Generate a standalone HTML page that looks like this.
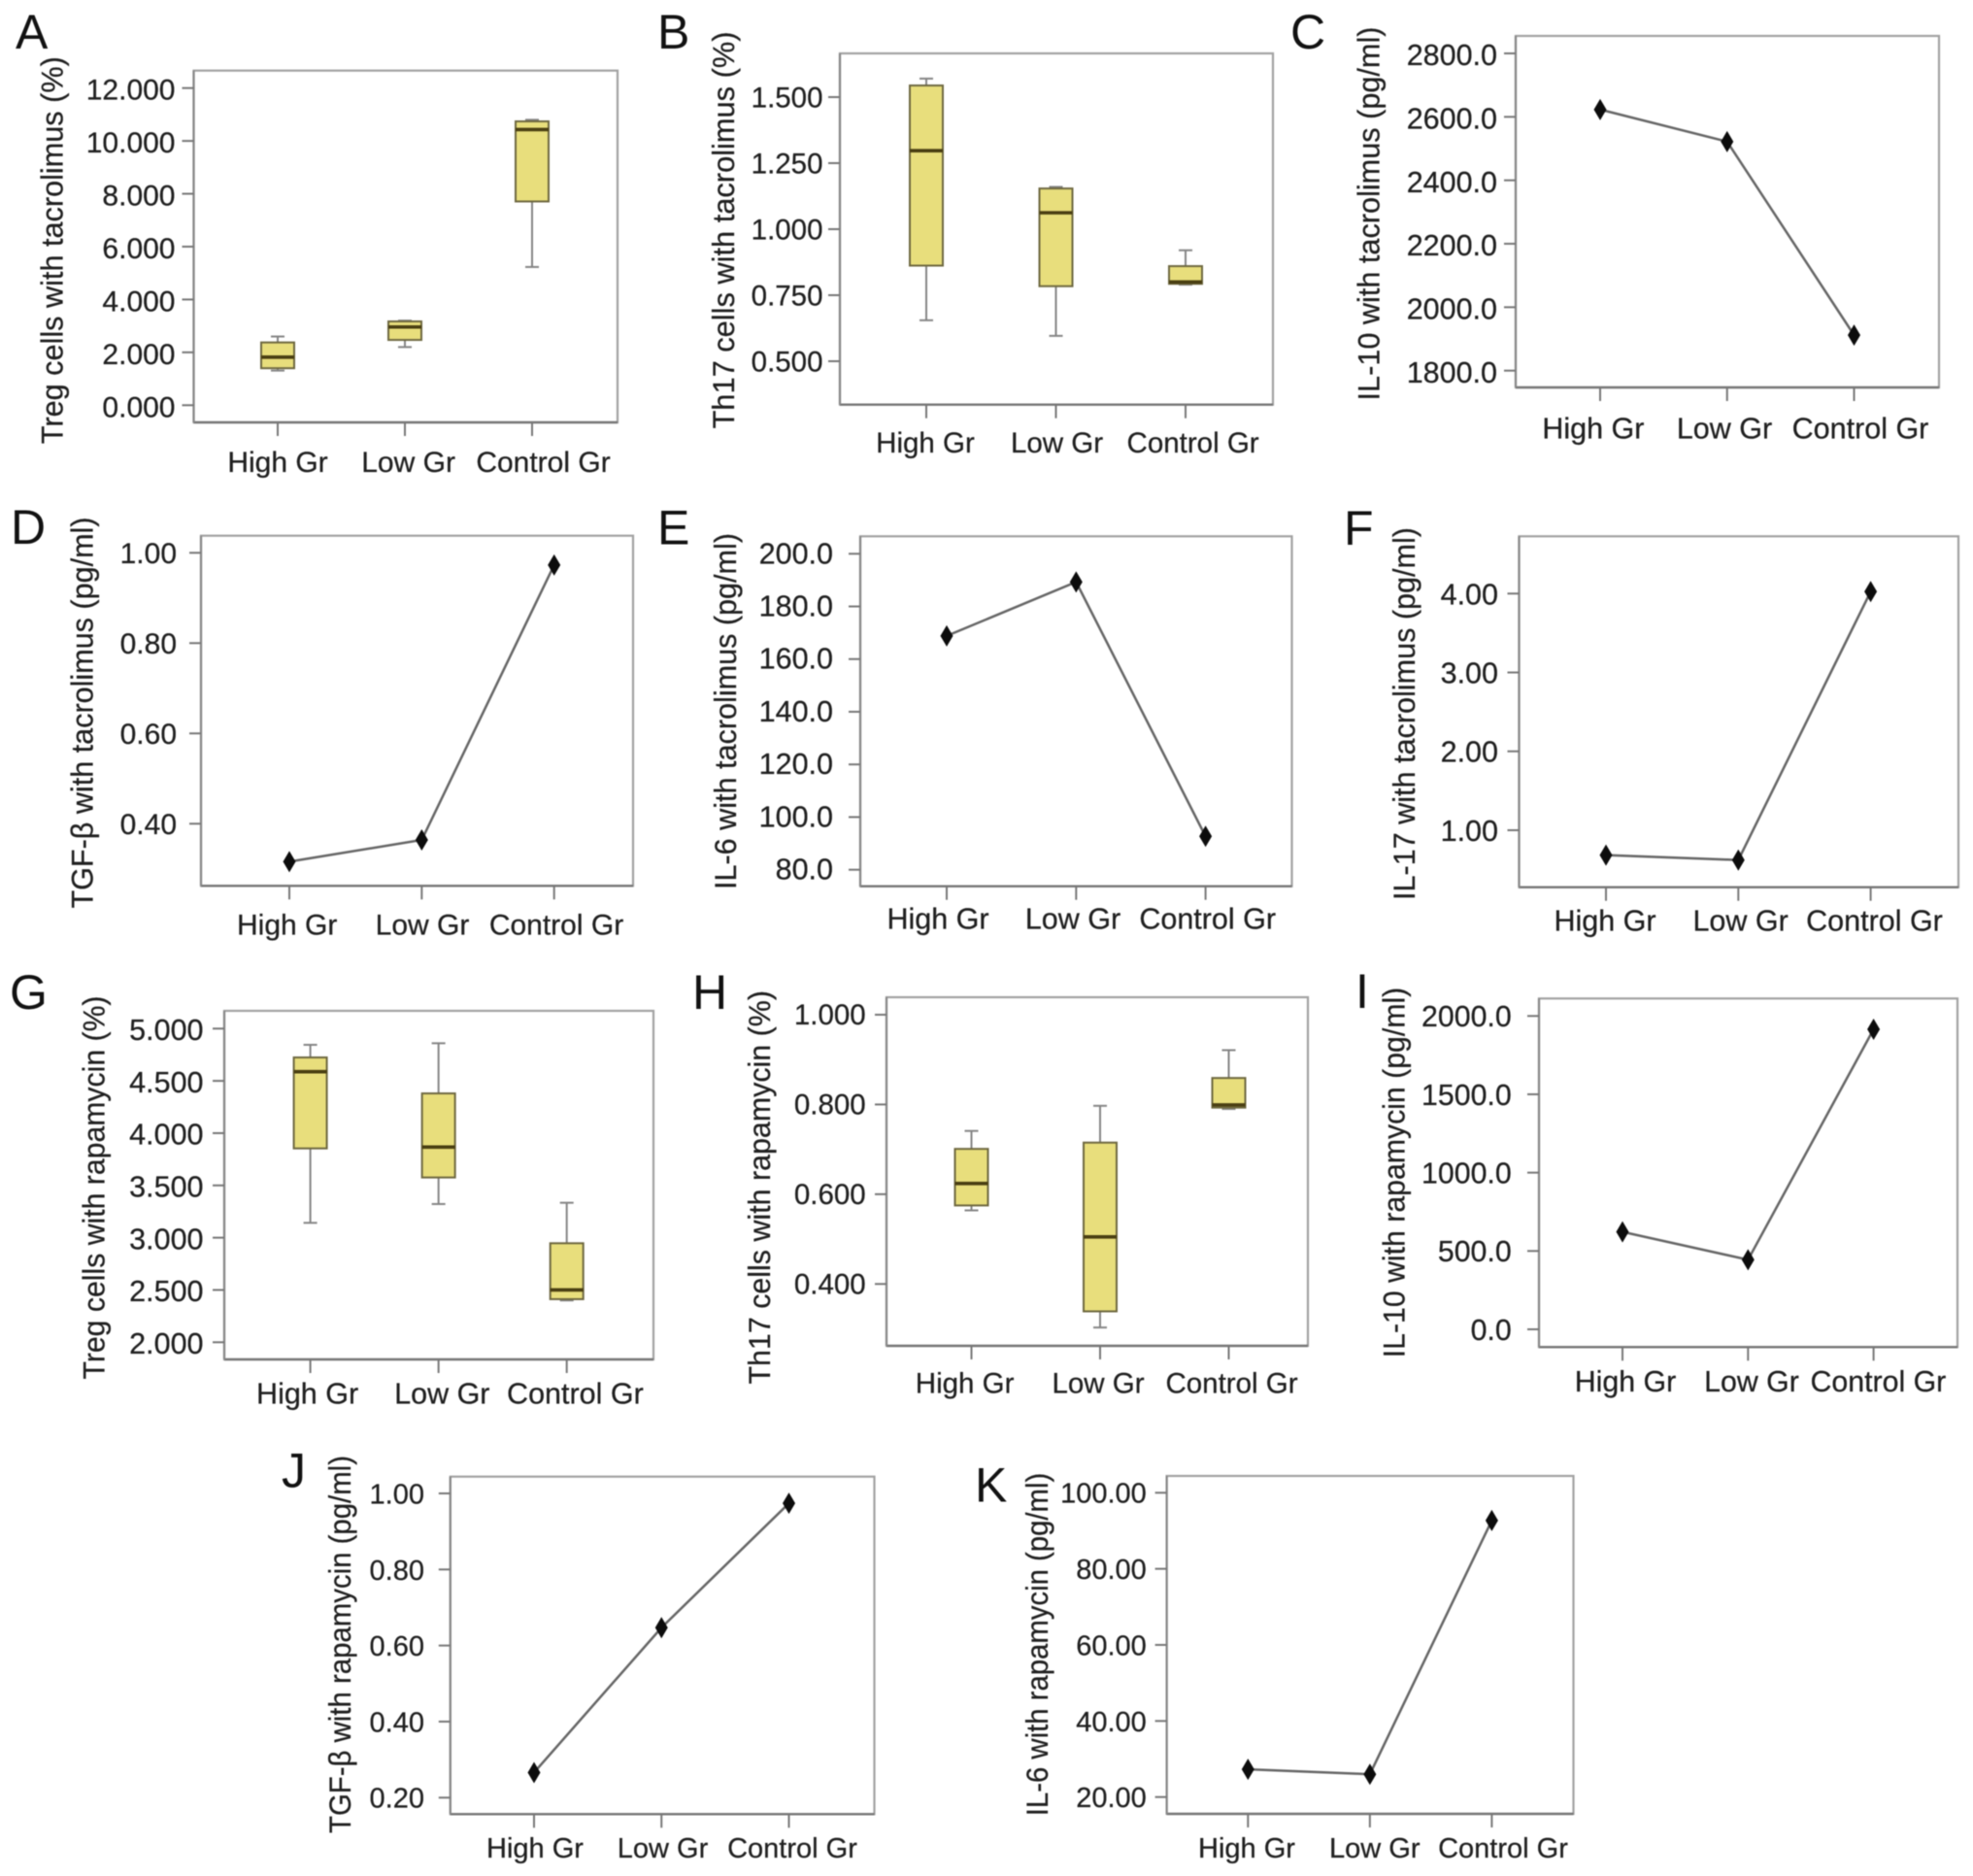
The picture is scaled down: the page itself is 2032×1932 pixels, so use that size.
<!DOCTYPE html>
<html lang="en">
<head>
<meta charset="utf-8">
<title>Treg, Th17 and cytokine levels by group</title>
<style>
html,body{margin:0;padding:0;background:#fff;}
#figure{display:block;width:2032px;height:1932px;filter:blur(0.6px);}
text{font-family:"Liberation Sans",Arial,sans-serif;fill:#1f1f1f;stroke:#1f1f1f;stroke-width:0.25px;}
</style>
</head>
<body>
<svg id="figure" xmlns="http://www.w3.org/2000/svg" width="2032" height="1932" viewBox="0 0 2032 1932"></svg>
<script>
/* ---------- shared categories ---------- */
const categories = ['High Gr', 'Low Gr', 'Control Gr'];

/* ---------- panel A ---------- */
const aTicks = ['12.000', '10.000', '8.000', '6.000', '4.000', '2.000', '0.000'];
const aWhiskerHigh = [2.6, 3.2, 10.8];
const aQ3 = [2.375, 3.17, 10.74];
const aMedian = [1.82, 2.96, 10.43];
const aQ1 = [1.4, 2.47, 7.71];
const aWhiskerLow = [1.31, 2.2, 5.23];

/* ---------- panel B ---------- */
const bTicks = ['1.500', '1.250', '1.000', '0.750', '0.500'];
const bWhiskerHigh = [1.57, 1.16, 0.92];
const bQ3 = [1.544, 1.154, 0.86];
const bMedian = [1.297, 1.062, 0.8];
const bQ1 = [0.862, 0.784, 0.793];
const bWhiskerLow = [0.655, 0.596, 0.79];

/* ---------- panel C ---------- */
const cTicks = ['2800.0', '2600.0', '2400.0', '2200.0', '2000.0', '1800.0'];
const cMeans = [2623, 2522, 1912];

/* ---------- panel D ---------- */
const dTicks = ['1.00', '0.80', '0.60', '0.40'];
const dMeans = [0.316, 0.364, 0.973];

/* ---------- panel E ---------- */
const eTicks = ['200.0', '180.0', '160.0', '140.0', '120.0', '100.0', '80.0'];
const eMeans = [168.8, 189.3, 92.7];

/* ---------- panel F ---------- */
const fTicks = ['4.00', '3.00', '2.00', '1.00'];
const fMeans = [0.684, 0.622, 4.025];

/* ---------- panel G ---------- */
const gTicks = ['5.000', '4.500', '4.000', '3.500', '3.000', '2.500', '2.000'];
const gWhiskerHigh = [4.845, 4.86, 3.334];
const gQ3 = [4.724, 4.38, 2.947];
const gMedian = [4.588, 3.867, 2.5];
const gQ1 = [3.854, 3.576, 2.412];
const gWhiskerLow = [3.142, 3.322, 2.4];

/* ---------- panel H ---------- */
const hTicks = ['1.000', '0.800', '0.600', '0.400'];
const hWhiskerHigh = [0.741, 0.797, 0.921];
const hQ3 = [0.701, 0.715, 0.859];
const hMedian = [0.624, 0.505, 0.799];
const hQ1 = [0.575, 0.339, 0.793];
const hWhiskerLow = [0.564, 0.303, 0.79];

/* ---------- panel I ---------- */
const iTicks = ['2000.0', '1500.0', '1000.0', '500.0', '0.0'];
const iMeans = [622, 444, 1915];

/* ---------- panel J ---------- */
const jTicks = ['1.00', '0.80', '0.60', '0.40', '0.20'];
const jMeans = [0.266, 0.647, 0.974];

/* ---------- panel K ---------- */
const kTicks = ['100.00', '80.00', '60.00', '40.00', '20.00'];
const kMeans = [27.3, 26, 92.7];

/* ---------- panel definitions (layout kept separate from the data) ---------- */
const panels = [
  {id:'a', letter:'A', lx:16, ly:50, title:'Treg cells with tacrolimus (%)', tx:64.5, tc:257.7, tl:399,
   box:[199.5,636,72.7,435], yTop:90.7, yBot:417.3, xFirst:286, xLast:548, labelX:[286,420.6,559.5], labelY:486, tickEnd:180.5, fs:30, dy:1.2,
   ticks:aTicks, hi:aWhiskerHigh, q3:aQ3, med:aMedian, q1:aQ1, lo:aWhiskerLow},
  {id:'b', letter:'B', lx:677, ly:50, title:'Th17 cells with tacrolimus (%)', tx:756, tc:237, tl:409,
   box:[865,1311,55,416.7], yTop:100, yBot:372, xFirst:954, xLast:1221, labelX:[953,1088.5,1228.6], labelY:466, tickEnd:847.5, fs:29.5, dy:0,
   ticks:bTicks, hi:bWhiskerHigh, q3:bQ3, med:bMedian, q1:bQ1, lo:bWhiskerLow},
  {id:'c', letter:'C', lx:1329, ly:50, title:'IL-10 with tacrolimus (pg/ml)', tx:1420.5, tc:220, tl:385,
   box:[1561,1997,37,399], yTop:55, yBot:381.7, xFirst:1648, xLast:1909.5, labelX:[1640.9,1776,1916], labelY:451.5, tickEnd:1542, fs:30.5, dy:1.2,
   ticks:cTicks, means:cMeans},
  {id:'d', letter:'D', lx:11, ly:560, title:'TGF-\u03B2 with tacrolimus (pg/ml)', tx:95.5, tc:734, tl:403,
   box:[207,652,551.7,912.3], yTop:569.3, yBot:848.3, xFirst:298, xLast:570.7, labelX:[295.7,435,573], labelY:962.5, tickEnd:182, fs:30, dy:0,
   ticks:dTicks, means:dMeans},
  {id:'e', letter:'E', lx:677, ly:560.7, title:'IL-6 with tacrolimus (pg/ml)', tx:758, tc:732.5, tl:367,
   box:[886,1330.5,552.3,912.7], yTop:570.3, yBot:895.7, xFirst:975, xLast:1241.6, labelX:[966,1105,1243.7], labelY:956.5, tickEnd:858, fs:30.5, dy:-1,
   ticks:eTicks, means:eMeans},
  {id:'f', letter:'F', lx:1384, ly:561, title:'IL-17 with tacrolimus (pg/ml)', tx:1457, tc:735, tl:384,
   box:[1564.5,2017,552.3,913.7], yTop:611.3, yBot:855, xFirst:1654, xLast:1926.6, labelX:[1653,1792.6,1930.5], labelY:958.5, tickEnd:1543, fs:30.5, dy:0,
   ticks:fTicks, means:fMeans},
  {id:'g', letter:'G', lx:10, ly:1039, title:'Treg cells with rapamycin (%)', tx:107.5, tc:1223, tl:395,
   box:[231,673,1041,1400], yTop:1059.3, yBot:1382.3, xFirst:319.6, xLast:583.7, labelX:[316.6,455.3,592.4], labelY:1445.5, tickEnd:209.5, fs:30.5, dy:0.8,
   ticks:gTicks, hi:gWhiskerHigh, q3:gQ3, med:gMedian, q1:gQ1, lo:gWhiskerLow},
  {id:'h', letter:'H', lx:713, ly:1039, title:'Th17 cells with rapamycin (%)', tx:793, tc:1222.8, tl:405.5,
   box:[913,1347,1027,1386], yTop:1045, yBot:1322.3, xFirst:1000.5, xLast:1265.5, labelX:[993.6,1131,1268.5], labelY:1434.5, tickEnd:891.7, fs:29.5, dy:-0.5,
   ticks:hTicks, hi:hWhiskerHigh, q3:hQ3, med:hMedian, q1:hQ1, lo:hWhiskerLow},
  {id:'i', letter:'I', lx:1396, ly:1038, title:'IL-10 with rapamycin (pg/ml)', tx:1446.5, tc:1207.5, tl:381.5,
   box:[1585,2016,1028.3,1387.3], yTop:1046.3, yBot:1369, xFirst:1671, xLast:1929.6, labelX:[1674,1804,1934.4], labelY:1433.2, tickEnd:1556.7, fs:30.3, dy:0,
   ticks:iTicks, means:iMeans},
  {id:'j', letter:'J', lx:290, ly:1531.7, title:'TGF-\u03B2 with rapamycin (pg/ml)', tx:361, tc:1693.5, tl:389,
   box:[463.8,900.5,1520.7,1868.3], yTop:1538, yBot:1851.3, xFirst:550, xLast:812.5, labelX:[551,682.5,816], labelY:1913, tickEnd:437, fs:29, dy:0,
   ticks:jTicks, means:jMeans},
  {id:'k', letter:'K', lx:1004, ly:1546.7, title:'IL-6 with rapamycin (pg/ml)', tx:1079, tc:1693.5, tl:353.5,
   box:[1201.6,1620.5,1520,1868], yTop:1537.3, yBot:1850.7, xFirst:1285.3, xLast:1536.4, labelX:[1284,1415.8,1548], labelY:1913, tickEnd:1180.8, fs:29, dy:0,
   ticks:kTicks, means:kMeans}
];

const NS = 'http://www.w3.org/2000/svg';
const svg = document.getElementById('figure');

function add(parent, tag, attrs, txt) {
  const e = document.createElementNS(NS, tag);
  for (const k in attrs) e.setAttribute(k, attrs[k]);
  if (txt !== undefined) e.textContent = txt;
  parent.appendChild(e);
  return e;
}

function makeYScale(p) {
  const v0 = parseFloat(p.ticks[0]);
  const v1 = parseFloat(p.ticks[p.ticks.length - 1]);
  return function (v) { return p.yTop + (v - v0) / (v1 - v0) * (p.yBot - p.yTop); };
}

function makeXScale(p) {
  return function (i) { return p.xFirst + i * (p.xLast - p.xFirst) / (categories.length - 1); };
}

function drawAxes(p, g, y, x) {
  const L = p.box[0], R = p.box[1], T = p.box[2], B = p.box[3];

  const frame = add(g, 'rect', {x:L, y:T, width:R - L, height:B - T, fill:'#fff', stroke:'#a2a2a2', 'stroke-width':2.2});
  
  

  const xAxis = add(g, 'line', {x1:L, x2:R, y1:B, y2:B, stroke:'#777', 'stroke-width':2.4});
  
  

  const yAxis = add(g, 'line', {x1:L, x2:L, y1:T, y2:B, stroke:'#888', 'stroke-width':2.2});
  
  

  p.ticks.forEach(function (label) {
    const py = y(parseFloat(label));
    const tick = add(g, 'line', {x1:L - 12, x2:L, y1:py, y2:py, stroke:'#777', 'stroke-width':2});
    
    

    const text = add(g, 'text', {x:p.tickEnd, y:py + p.fs * 0.36 + p.dy, 'text-anchor':'end', 'font-size':p.fs}, label);
    
    
  });

  categories.forEach(function (cat, i) {
    const px = x(i);
    const tick = add(g, 'line', {x1:px, x2:px, y1:B, y2:B + 14, stroke:'#777', 'stroke-width':2});
    
    

    const text = add(g, 'text', {x:p.labelX[i], y:p.labelY, 'text-anchor':'middle', 'font-size':p.fs}, cat);
    
    
  });

  const title = add(g, 'text', {
    transform:'translate(' + p.tx + ',' + p.tc + ') rotate(-90)',
    'text-anchor':'middle', 'font-size':31.5, textLength:p.tl, lengthAdjust:'spacingAndGlyphs'
  }, p.title);
  
  

  const letter = add(g, 'text', {x:p.lx, y:p.ly, 'font-size':50, style:'fill:#111;stroke:none'}, p.letter);
  
  
}

function drawBoxes(p, g, y, x) {
  const half = 17, cap = 7;
  categories.forEach(function (cat, i) {
    const px = x(i);
    const group = add(g, 'g', {});
    
    

    const whisker = add(group, 'line', {x1:px, x2:px, y1:y(p.hi[i]), y2:y(p.lo[i]), stroke:'#858585', 'stroke-width':2});
    
    

    const capHigh = add(group, 'line', {x1:px - cap, x2:px + cap, y1:y(p.hi[i]), y2:y(p.hi[i]), stroke:'#858585', 'stroke-width':2});
    
    

    const capLow = add(group, 'line', {x1:px - cap, x2:px + cap, y1:y(p.lo[i]), y2:y(p.lo[i]), stroke:'#858585', 'stroke-width':2});
    
    

    const rect = add(group, 'rect', {x:px - half, y:y(p.q3[i]), width:half * 2, height:y(p.q1[i]) - y(p.q3[i]), fill:'#e8de7c', stroke:'#6e6840', 'stroke-width':2});
    
    

    const median = add(group, 'line', {x1:px - half, x2:px + half, y1:y(p.med[i]), y2:y(p.med[i]), stroke:'#4a3f12', 'stroke-width':3.6});
    
    
  });
}

function drawLine(p, g, y, x) {
  const pts = p.means.map(function (v, i) { return x(i) + ',' + y(v); }).join(' ');
  const line = add(g, 'polyline', {points:pts, fill:'none', stroke:'#666', 'stroke-width':2.5});
  
  

  p.means.forEach(function (v, i) {
    const px = x(i), py = y(v);
    const d = add(g, 'polygon', {points:[px, py - 11, px + 6.5, py, px, py + 11, px - 6.5, py].join(' '), fill:'#0c0c0c'});
    
    
  });
}

panels.forEach(function (p) {
  const g = add(svg, 'g', {});
  
  
  const y = makeYScale(p);
  const x = makeXScale(p);
  drawAxes(p, g, y, x);
  if (p.means) drawLine(p, g, y, x); else drawBoxes(p, g, y, x);
});
</script>
</body>
</html>
